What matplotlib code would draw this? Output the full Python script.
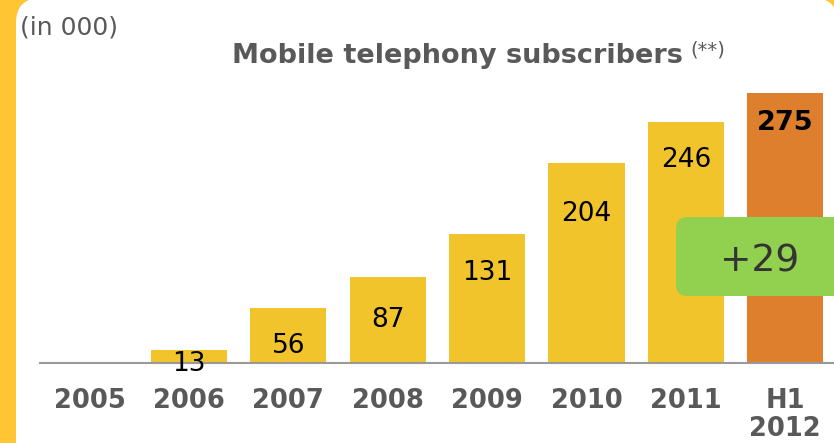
import matplotlib
matplotlib.use("Agg")
import matplotlib.pyplot as plt
from matplotlib.patches import FancyBboxPatch
from matplotlib.transforms import IdentityTransform

# Data (thousands of subscribers)
periods = ["2005", "2006", "2007", "2008", "2009", "2010", "2011", "H1\n2012"]
subscribers = [0, 13, 56, 87, 131, 204, 246, 275]

# Styling
bar_colors = ["#F0C42A"] * 7 + ["#DE7F2E"]
label_offsets_pt = [0, 15, 32.5, 35.5, 33, 42, 33, 26.5]  # baseline distance below bar top
GRAY = "#595959"

W, H, DPI = 834, 443, 100
fig = plt.figure(figsize=(W / DPI, H / DPI), dpi=DPI, facecolor="#FFC533")

# White rounded panel sitting on the yellow frame
panel = FancyBboxPatch((16, -60), 822, 505,
                       boxstyle="round,pad=0,rounding_size=25",
                       transform=IdentityTransform(),
                       facecolor="white", edgecolor="none", zorder=-10)
fig.add_artist(panel)

ax = fig.add_axes([40 / W, 80.5 / H, 794 / W, 284.1 / H])
ax.patch.set_visible(False)
ax.set_xlim(-0.498, 7.49)
ax.set_ylim(0, 290)

x = list(range(len(periods)))
ax.bar(x, subscribers, width=0.765, color=bar_colors, edgecolor="none", zorder=1)

for side in ("left", "top", "right"):
    ax.spines[side].set_visible(False)
ax.spines["bottom"].set_color("#999999")
ax.spines["bottom"].set_linewidth(1.5)
ax.set_yticks([])
ax.set_xticks(x, periods, fontweight="bold", linespacing=1.1)
ax.tick_params(axis="x", length=0, pad=18.6, labelsize=18.5, labelcolor=GRAY)

last = len(subscribers) - 1
for i, (v, off) in enumerate(zip(subscribers, label_offsets_pt)):
    if v == 0:
        continue
    is_last = i == last
    ax.annotate(str(v), (i, v), xytext=(0, -off), textcoords="offset points",
                ha="center", va="baseline",
                fontsize=19.5 if is_last else 19,
                fontweight="bold" if is_last else "normal",
                color="black", zorder=4, annotation_clip=False)

# Titles
fig.text(20.5 / W, (H - 34.7) / H, "(in 000)", ha="left", va="baseline",
         fontsize=18, color=GRAY)
title = fig.text(457 / W, (H - 63.3) / H, "Mobile telephony subscribers",
                 ha="center", va="baseline", fontsize=19.5,
                 fontweight="bold", color=GRAY)
ax.annotate("(**)", xy=(1, 0), xycoords=title, xytext=(6, 6.9),
            textcoords="offset points", ha="left", va="bottom",
            fontsize=14, color=GRAY, annotation_clip=False)

# Growth callout for the last period
callout = FancyBboxPatch((676, 147), 200, 79,
                         boxstyle="round,pad=0,rounding_size=12",
                         transform=IdentityTransform(),
                         facecolor="#92D050", edgecolor="none", zorder=5)
fig.add_artist(callout)
fig.text(760 / W, 171.3 / H, f"+{subscribers[-1] - subscribers[-2]}",
         ha="center", va="baseline", fontsize=27, color="#333333", zorder=6)

fig.savefig("out.png", dpi=DPI, facecolor=fig.get_facecolor())
